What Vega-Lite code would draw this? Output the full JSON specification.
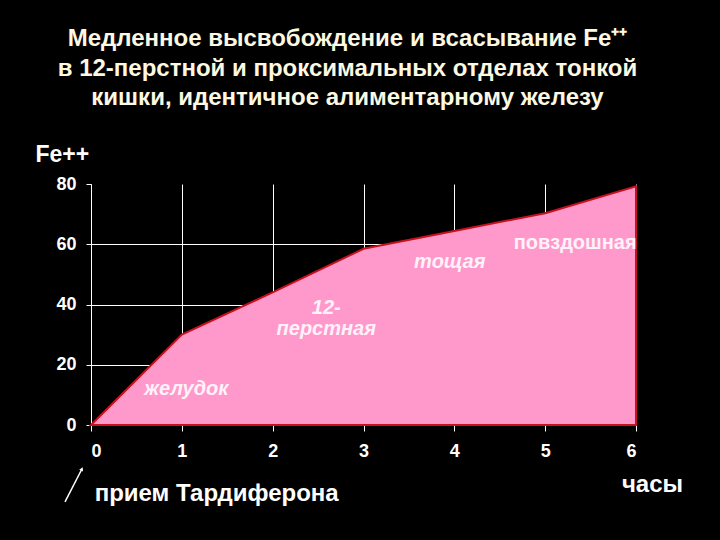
{
  "$schema": "https://vega.github.io/schema/vega-lite/v6.json",
  "width": 545,
  "height": 241,
  "autosize": {"type": "none"},
  "padding": {"left": 91, "top": 184, "right": 84, "bottom": 115},
  "background": "#000000",
  "config": {"view": {"stroke": null}, "font": "Liberation Sans"},
  "title": {
    "text": ["Медленное высвобождение и всасывание Fe⁺⁺", "в 12-перстной и проксимальных отделах тонкой", "кишки, идентичное алиментарному железу"],
    "font": "Liberation Sans",
    "fontSize": 24,
    "fontWeight": "bold",
    "color": "#fdf8e1",
    "lineHeight": 29.5,
    "anchor": "middle",
    "frame": "group",
    "dx": -16,
    "offset": 33
  },
  "datasets": {
    "curve": [
      {"t": 0, "fe": 0},
      {"t": 1, "fe": 30},
      {"t": 2, "fe": 44},
      {"t": 3, "fe": 58.5},
      {"t": 4, "fe": 64.4},
      {"t": 5, "fe": 70.3},
      {"t": 6, "fe": 79.2}
    ],
    "italicLabels": [
      {"t": 1.05, "fe": 12, "label": "желудок"},
      {"t": 2.59, "fe": 39, "label": "12-\nперстная"},
      {"t": 3.95, "fe": 54, "label": "тощая"}
    ],
    "plainLabels": [
      {"t": 5.33, "fe": 60.5, "label": "повздошная"}
    ],
    "note": [
      {"t": 0.04, "fe": -22.8, "label": "прием Тардиферона"}
    ],
    "arrow": [
      {"t": -0.286, "fe": -25.5, "t2": -0.10, "fe2": -14.6}
    ]
  },
  "layer": [
    {
      "data": {"name": "curve"},
      "mark": {"type": "area", "fill": "#ff99cc", "fillOpacity": 1, "stroke": "#c8101e", "strokeWidth": 2, "strokeJoin": "miter"},
      "encoding": {
        "x": {
          "field": "t", "type": "quantitative",
          "scale": {"domain": [0, 6], "nice": false, "zero": false},
          "axis": {
            "values": [0, 1, 2, 3, 4, 5, 6], "format": "d",
            "grid": true, "gridColor": "#ffffff", "gridWidth": 1, "gridOpacity": 1,
            "domainColor": "#ffffff", "domainWidth": 1,
            "tickColor": "#ffffff", "tickSize": 6,
            "labelColor": "#ffffff", "labelFont": "Liberation Sans", "labelFontSize": 18, "labelFontWeight": "bold", "labelPadding": 11,
            "title": "часы", "titleColor": "#ffffff", "titleFont": "Liberation Sans", "titleFontSize": 24, "titleFontWeight": "bold",
            "titleAlign": "center", "titleBaseline": "middle", "titleX": 561, "titleY": 59
          }
        },
        "y": {
          "field": "fe", "type": "quantitative",
          "scale": {"domain": [0, 80], "nice": false},
          "axis": {
            "values": [0, 20, 40, 60, 80], "format": "d",
            "grid": true, "gridColor": "#ffffff", "gridWidth": 1,
            "gridOpacity": {"condition": {"test": "datum.value == 80", "value": 0}, "value": 1},
            "domainColor": "#ffffff", "domainWidth": 1,
            "tickColor": "#ffffff", "tickSize": 5,
            "labelColor": "#ffffff", "labelFont": "Liberation Sans", "labelFontSize": 18, "labelFontWeight": "bold", "labelPadding": 10,
            "title": "Fe++", "titleColor": "#ffffff", "titleFont": "Liberation Sans", "titleFontSize": 23, "titleFontWeight": "bold",
            "titleAngle": 0, "titleAlign": "left", "titleBaseline": "alphabetic", "titleX": -56, "titleY": -23
          }
        }
      }
    },
    {
      "data": {"name": "italicLabels"},
      "mark": {"type": "text", "font": "Liberation Sans", "fontSize": 20, "fontWeight": "bold", "fontStyle": "italic", "color": "#fff2f8", "align": "center", "baseline": "middle", "lineBreak": "\n", "lineHeight": 21},
      "encoding": {
        "x": {"field": "t", "type": "quantitative"},
        "y": {"field": "fe", "type": "quantitative"},
        "text": {"field": "label"}
      }
    },
    {
      "data": {"name": "plainLabels"},
      "mark": {"type": "text", "font": "Liberation Sans", "fontSize": 20, "fontWeight": "bold", "color": "#fff2f8", "align": "center", "baseline": "middle"},
      "encoding": {
        "x": {"field": "t", "type": "quantitative"},
        "y": {"field": "fe", "type": "quantitative"},
        "text": {"field": "label"}
      }
    },
    {
      "data": {"name": "note"},
      "mark": {"type": "text", "font": "Liberation Sans", "fontSize": 24, "fontWeight": "bold", "color": "#ffffff", "align": "left", "baseline": "middle"},
      "encoding": {
        "x": {"field": "t", "type": "quantitative"},
        "y": {"field": "fe", "type": "quantitative"},
        "text": {"field": "label"}
      }
    },
    {
      "data": {"name": "arrow"},
      "mark": {"type": "rule", "color": "#ffffff", "strokeWidth": 1.5},
      "encoding": {
        "x": {"field": "t", "type": "quantitative"},
        "y": {"field": "fe", "type": "quantitative"},
        "x2": {"field": "t2"},
        "y2": {"field": "fe2"}
      }
    },
    {
      "data": {"name": "arrow"},
      "mark": {"type": "point", "shape": "triangle-up", "filled": true, "color": "#ffffff", "size": 18, "angle": 27, "opacity": 1},
      "encoding": {
        "x": {"field": "t2", "type": "quantitative"},
        "y": {"field": "fe2", "type": "quantitative"}
      }
    }
  ]
}
